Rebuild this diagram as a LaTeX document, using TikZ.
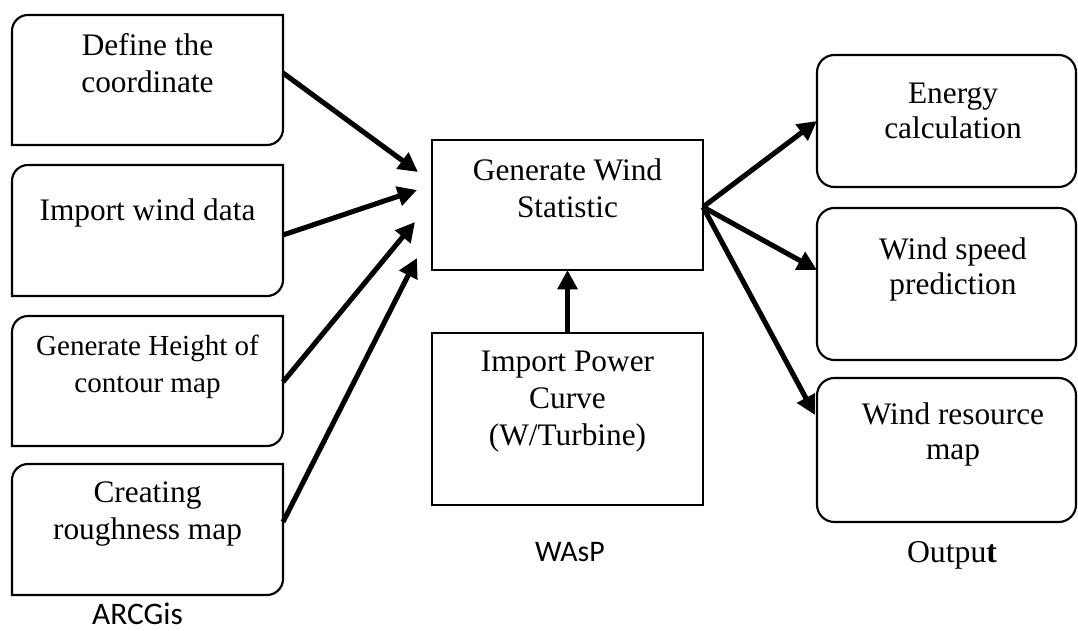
\documentclass[tikz,border=0pt]{standalone}
\usepackage{fontspec}
\setmainfont{Liberation Serif}
\newfontfamily\calib{Carlito}
\usetikzlibrary{arrows.meta,calc,fit}
\tikzset{
  frame/.style={line width=1.6pt},
  holder/.style={inner sep=0pt, outer sep=0pt},
  txt/.style={align=center, inner sep=0pt, font=\fontsize{23.5}{27.75}\selectfont},
  txtsmall/.style={align=center, inner sep=0pt, font=\fontsize{21.8}{27.75}\selectfont},
  txtright/.style={align=center, inner sep=0pt, font=\fontsize{23.5}{26.25}\selectfont},
  lbl/.style={inner sep=0pt, font=\calib\fontsize{22.4}{26}\selectfont},
  arr/.style={line width=3.8pt, -{Triangle[length=14.5pt,width=14.5pt]}},
  rbox/.style={holder, draw, frame, rounded corners=13pt},
  sbox/.style={holder, draw, frame}
}
\newcommand{\leftoutline}[1]{%
  \draw[frame] (#1.south west) -- ([yshift=-12pt]#1.north west)
    arc[start angle=180, end angle=90, radius=12pt] -- (#1.north east)
    -- ([yshift=12pt]#1.south east)
    arc[start angle=0, end angle=-90, radius=12pt] -- cycle;}
\begin{document}
\begin{tikzpicture}[x=0.75pt,y=0.75pt]
\useasboundingbox (0,0) rectangle (1078,631);
% left boxes (ARCGis)
\node[holder, fit={(12,616)(283,486)}] (d1) {};
\node[holder, fit={(12,466)(283,335)}] (d2) {};
\node[holder, fit={(12,315)(283,185)}] (d3) {};
\node[holder, fit={(12,167)(283,36)}] (d4) {};
\leftoutline{d1}
\leftoutline{d2}
\leftoutline{d3}
\leftoutline{d4}
\node[txt] (d1t) at (147.5,567.5) {Define the\\coordinate};
\node[txt] (d2t) at (147.5,418) {Import wind data};
\node[txtsmall] (d3t) at (147.5,264.5) {Generate Height of\\contour map};
\node[txt] (d4t) at (147.5,117) {Creating\\roughness map};
\node[lbl, font=\calib\fontsize{23.5}{27}\selectfont] (arc) at (137.5,17) {ARCGis};
% centre boxes (WAsP)
\node[sbox, fit={(432,491)(703,361)}] (gws) {};
\node[sbox, fit={(432,298)(703,126)}] (ipc) {};
\node[txt] (gwst) at (567.5,442.5) {Generate Wind\\Statistic};
\node[txt] (ipct) at (567.5,229) {Import Power\\Curve\\(W/Turbine)};
\node[lbl] (wasp) at (570,79) {WAsP};
% right boxes (Output)
\node[rbox, fit={(817,576)(1076,444)}] (r1) {};
\node[rbox, fit={(817,423)(1076,271)}] (r2) {};
\node[rbox, fit={(817,253)(1076,109)}] (r3) {};
\node[txtright] (r1t) at (953,520.5) {Energy\\calculation};
\node[txtright] (r2t) at (953,361.5) {Wind speed\\prediction};
\node[txtright] (r3t) at (953,197) {Wind resource\\map};
\node[inner sep=0pt, font=\fontsize{23.8}{27}\selectfont] (outl) at (952,76) {Outpu\textbf{t}};
% arrow end points
\coordinate (i1) at ($(gws.west)+(-14,33)$);
\coordinate (i2) at ($(gws.west)+(-15,15)$);
\coordinate (i3) at ($(gws.west)+(-17,-17)$);
\coordinate (i4) at ($(gws.west)+(-15,-53)$);
\coordinate (o2) at ($(r2.west)+(0,14)$);
\coordinate (o3) at ($(r3.west)+(-2,35)$);
% arrows
\draw[arr] ($(d1.east)+(0,7)$) -- (i1);
\draw[arr] ($(d2.east)+(0,-4.5)$) -- (i2);
\draw[arr] ($(d3.east)+(0,-1)$) -- (i3);
\draw[arr] ($(d4.east)+(0,7.5)$) -- (i4);
\draw[arr] (ipc.north) -- (gws.south);
\draw[arr] ($(gws.east)+(0,-2)$) -- (r1.west);
\draw[arr] ($(gws.east)+(0,-2)$) -- (o2);
\draw[arr] ($(gws.east)+(0,-2)$) -- (o3);
\end{tikzpicture}
\end{document}
